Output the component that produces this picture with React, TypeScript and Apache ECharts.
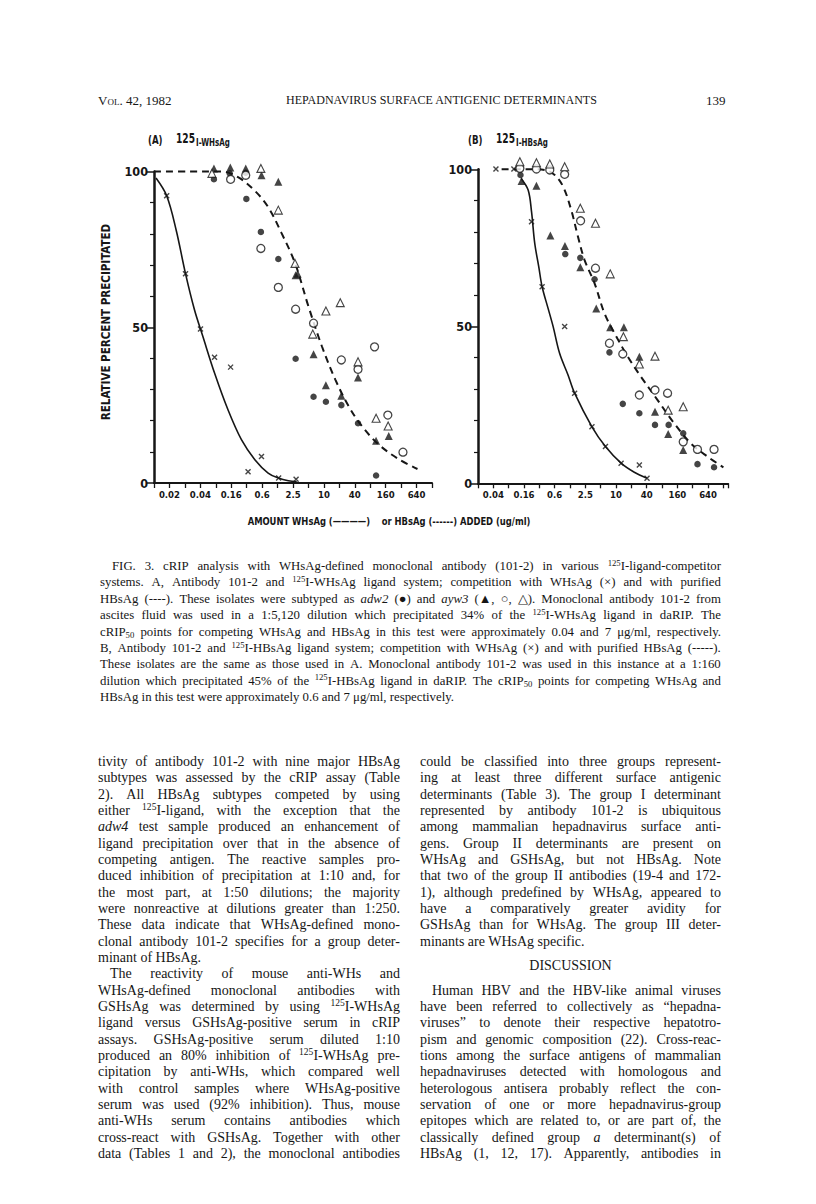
import React, { useEffect, useRef } from 'react';
import * as echarts from 'echarts';

// ---------- data (x = position on the two-fold dilution scale, y = % precipitated) ----------
const tickLabelsA = ['0.02', '0.04', '0.16', '0.6', '2.5', '10', '40', '160', '640'];
const tickLabelsB = ['0.04', '0.16', '0.6', '2.5', '10', '40', '160', '640'];
const yTickLabels = ['0', '50', '100'];

const whsAgA = [[0.82, 92.2], [2.04, 67.2], [3.01, 49.4], [3.92, 40.4], [4.96, 37.2], [6.09, 3.6], [6.96, 8.5], [8.07, 1.6], [9.2, 1.2]];
const adw2A = [[3.88, 97.5], [4.9, 99.4], [5.94, 99.6], [5.98, 91.2], [6.92, 80.6], [8.05, 71.9], [9.17, 39.9], [10.33, 27.7], [11.13, 26.1], [12.13, 25.0], [13.21, 19.2], [14.38, 2.4]];
const ayw3TriFilledA = [[3.88, 101], [4.94, 101.3], [5.94, 101], [6.96, 98.8], [8.05, 96.7], [9.17, 66.7], [9.3, 67.2], [10.33, 41.3], [11.13, 31.4], [12.13, 28.0], [13.21, 33.9], [14.38, 13.6], [15.2, 15.1]];
const ayw3CircleOpenA = [[4.96, 97.5], [5.94, 98.8], [6.92, 75.3], [8.05, 62.8], [9.17, 55.8], [10.33, 51.3], [12.13, 39.5], [13.21, 36.5], [14.28, 43.7], [15.14, 21.8], [16.12, 9.9]];
const ayw3TriOpenA = [[3.75, 99.4], [6.92, 101], [8.05, 87.6], [9.13, 70.5], [10.28, 47.8], [11.13, 55.2], [12.06, 57.9], [13.21, 38.9], [14.38, 20.8], [15.16, 18.3]];
const curveWhA = [[0.13, 97.9], [0.82, 92.2], [1.43, 81.3], [2.04, 67.2], [2.62, 55.6], [3.16, 47.1], [3.92, 35.3], [4.79, 23.5], [5.66, 13.9], [6.53, 7.5], [7.39, 3.2], [8.05, 1.6], [8.7, 0.7], [9.24, 0.4]];
const curveHbA = [[0, 100], [2.19, 100], [4.36, 100], [5.44, 98.2], [6.53, 93.8], [7.39, 88.6], [8.26, 80.2], [9.13, 70.6], [10.0, 56.7], [10.87, 43.9], [11.74, 33.2], [12.61, 24.6], [13.47, 18.2], [14.56, 12.3], [15.86, 7.6], [17.06, 4.5]];

const whsAgB = [[1.17, 100.1], [2.34, 100.1], [3.49, 83.3], [4.18, 62.6], [5.65, 49.9], [6.3, 28.7], [7.43, 18.0], [8.31, 11.7], [9.33, 6.4], [10.52, 5.8], [11.02, 1.6]];
const adw2B = [[2.77, 98.2], [5.69, 73.0], [6.67, 71.8], [7.6, 65.0], [8.57, 41.7], [9.44, 25.3], [10.52, 22.3], [11.54, 18.6], [12.43, 18.6], [13.38, 15.9], [14.31, 6.1], [15.39, 5.1]];
const ayw3TriFilledB = [[2.84, 96.3], [3.81, 94.8], [4.72, 78.9], [5.67, 75.6], [6.67, 68.8], [7.71, 55.7], [8.62, 49.7], [9.51, 49.7], [10.52, 40.3], [11.54, 22.8], [12.4, 15.7], [13.38, 10.6]];
const ayw3CircleOpenB = [[2.73, 100.3], [3.81, 100.1], [4.68, 99.8], [5.65, 98.4], [6.69, 83.6], [7.66, 68.5], [8.57, 44.6], [9.44, 41.2], [10.52, 28.1], [11.54, 29.7], [12.36, 28.7], [13.38, 13.2], [14.31, 10.8], [15.39, 10.8]];
const ayw3TriOpenB = [[2.73, 102.4], [3.81, 102.1], [4.68, 101.7], [5.65, 100.8], [6.67, 87.6], [7.66, 82.8], [8.62, 66.7], [9.48, 46.7], [10.52, 38.0], [11.54, 40.5], [12.4, 23.3], [13.38, 24.4]];
const curveWhB = [[2.81, 97.1], [3.27, 93.4], [3.49, 86.5], [3.7, 76.4], [3.96, 69], [4.18, 62.6], [4.57, 55.7], [4.9, 49.9], [5.32, 41.4], [5.87, 34.5], [6.3, 28.7], [7.43, 18.0], [8.31, 11.7], [9.33, 6.4], [10.19, 3.5], [11.02, 1.6]];
const curveHbB = [[1.54, 100], [2.5, 100], [3.5, 100], [4.35, 99.8], [5.0, 98.2], [5.55, 94.5], [6.08, 87], [6.52, 78.5], [6.95, 71.1], [7.6, 63.7], [8.25, 54.1], [8.9, 47.8], [9.77, 40.3], [10.63, 33.9], [11.71, 26.5], [12.79, 19.1], [13.88, 12.7], [14.96, 8.5], [16.0, 5.1]];

// ---------- texts ----------
const captionLines = [
  'FIG. 3. cRIP analysis with WHsAg-defined monoclonal antibody (101-2) in various ^{125}I-ligand-competitor',
  'systems. A, Antibody 101-2 and ^{125}I-WHsAg ligand system; competition with WHsAg (×) and with purified',
  'HBsAg (----). These isolates were subtyped as *adw2* (●) and *ayw3* (▲, ○, △). Monoclonal antibody 101-2 from',
  'ascites fluid was used in a 1:5,120 dilution which precipitated 34% of the ^{125}I-WHsAg ligand in daRIP. The',
  'cRIP_{50} points for competing WHsAg and HBsAg in this test were approximately 0.04 and 7 μg/ml, respectively.',
  'B, Antibody 101-2 and ^{125}I-HBsAg ligand system; competition with WHsAg (×) and with purified HBsAg (-----).',
  'These isolates are the same as those used in A. Monoclonal antibody 101-2 was used in this instance at a 1:160',
  'dilution which precipitated 45% of the ^{125}I-HBsAg ligand in daRIP. The cRIP_{50} points for competing WHsAg and',
  'HBsAg in this test were approximately 0.6 and 7 μg/ml, respectively.',
];

const col1Lines = [
  'tivity of antibody 101-2 with nine major HBsAg',
  'subtypes was assessed by the cRIP assay (Table',
  '2). All HBsAg subtypes competed by using',
  'either ^{125}I-ligand, with the exception that the',
  '*adw4* test sample produced an enhancement of',
  'ligand precipitation over that in the absence of',
  'competing antigen. The reactive samples pro-',
  'duced inhibition of precipitation at 1:10 and, for',
  'the most part, at 1:50 dilutions; the majority',
  'were nonreactive at dilutions greater than 1:250.',
  'These data indicate that WHsAg-defined mono-',
  'clonal antibody 101-2 specifies for a group deter-',
  'minant of HBsAg.',
  'The reactivity of mouse anti-WHs and',
  'WHsAg-defined monoclonal antibodies with',
  'GSHsAg was determined by using ^{125}I-WHsAg',
  'ligand versus GSHsAg-positive serum in cRIP',
  'assays. GSHsAg-positive serum diluted 1:10',
  'produced an 80% inhibition of ^{125}I-WHsAg pre-',
  'cipitation by anti-WHs, which compared well',
  'with control samples where WHsAg-positive',
  'serum was used (92% inhibition). Thus, mouse',
  'anti-WHs serum contains antibodies which',
  'cross-react with GSHsAg. Together with other',
  'data (Tables 1 and 2), the monoclonal antibodies',
];
const col1Ragged = [12];
const col1Indent = [13];

const col2LinesTop = [
  'could be classified into three groups represent-',
  'ing at least three different surface antigenic',
  'determinants (Table 3). The group I determinant',
  'represented by antibody 101-2 is ubiquitous',
  'among mammalian hepadnavirus surface anti-',
  'gens. Group II determinants are present on',
  'WHsAg and GSHsAg, but not HBsAg. Note',
  'that two of the group II antibodies (19-4 and 172-',
  '1), although predefined by WHsAg, appeared to',
  'have a comparatively greater avidity for',
  'GSHsAg than for WHsAg. The group III deter-',
  'minants are WHsAg specific.',
];
const col2Heading = 'DISCUSSION';
const col2LinesBottom = [
  'Human HBV and the HBV-like animal viruses',
  'have been referred to collectively as “hepadna-',
  'viruses” to denote their respective hepatotro-',
  'pism and genomic composition (22). Cross-reac-',
  'tions among the surface antigens of mammalian',
  'hepadnaviruses detected with homologous and',
  'heterologous antisera probably reflect the con-',
  'servation of one or more hepadnavirus-group',
  'epitopes which are related to, or are part of, the',
  'classically defined group *a* determinant(s) of',
  'HBsAg (1, 12, 17). Apparently, antibodies in',
];

const serif = '"Liberation Serif", "Times New Roman", serif';
const cond = '"Liberation Sans Narrow", "DejaVu Sans Condensed", "Roboto", sans-serif';
const ink = '#161616';

function renderMarkup(s: string, key: string) {
  const parts = s.split(/(\^\{[^}]*\}|_\{[^}]*\}|\*[^*]+\*)/).filter((p) => p !== '');
  return parts.map((p, i) => {
    if (p.startsWith('^{')) return <span key={key + i} style={{ fontSize: '0.68em', position: 'relative', top: '-0.5em' }}>{p.slice(2, -1)}</span>;
    if (p.startsWith('_{')) return <span key={key + i} style={{ fontSize: '0.68em', position: 'relative', top: '0.25em' }}>{p.slice(2, -1)}</span>;
    if (p.startsWith('*')) return <i key={key + i}>{p.slice(1, -1)}</i>;
    return <React.Fragment key={key + i}>{p}</React.Fragment>;
  });
}

function TextLine(props: { x: number; y: number; w: number; text: string; justify: boolean; size: number; k: string }) {
  const { x, y, w, text, justify, size, k } = props;
  const base: React.CSSProperties = {
    position: 'absolute', left: x, top: y - 9, height: 18, lineHeight: '18px', fontFamily: serif,
    fontSize: size, color: ink, whiteSpace: 'nowrap',
  };
  if (!justify) return <div style={base}>{renderMarkup(text, k)}</div>;
  const words = text.split(' ');
  return (
    <div style={{ ...base, width: w, display: 'flex', justifyContent: 'space-between' }}>
      {words.map((wd, i) => <span key={k + 'w' + i}>{renderMarkup(wd, k + 'w' + i)}</span>)}
    </div>
  );
}

function fmtX(labels: string[]) {
  return (v: number) => {
    const k = Math.round(v);
    return k % 2 === 1 ? labels[(k - 1) / 2] ?? '' : '';
  };
}

function Chart() {
  const ref = useRef<HTMLDivElement>(null);
  useEffect(() => {
    if (!ref.current) return;
    const chart = echarts.init(ref.current, undefined, { renderer: 'svg' });
    const xAxisBase = (max: number, labels: string[], gridIndex: number) => ({
      type: 'value', gridIndex, min: 0, max, interval: 1,
      axisLine: { onZero: false, lineStyle: { color: ink, width: 2 } },
      axisTick: { show: true, length: 5, lineStyle: { color: ink, width: 1.3 } },
      splitLine: { show: false },
      axisLabel: { formatter: fmtX(labels), color: ink, fontFamily: cond, fontWeight: 'bold', fontSize: 9.5, margin: 6 },
    });
    const yAxisBase = (gridIndex: number) => ({
      type: 'value', gridIndex, min: 0, max: 100, interval: 50,
      axisLine: { show: true, onZero: false, lineStyle: { color: ink, width: 2.5 } },
      axisTick: { show: true, length: 8, lineStyle: { color: ink, width: 1.5 } },
      minorTick: { show: true, splitNumber: 5, length: 4, lineStyle: { color: ink, width: 1.2 } },
      splitLine: { show: false },
      minorSplitLine: { show: false },
      axisLabel: {
        formatter: (v: number) => yTickLabels[Math.round(v / 50)] ?? '',
        color: ink, fontFamily: cond, fontWeight: 'bold', fontSize: 12.5, margin: 6,
      },
    });
    const scatter = (data: number[][], symbol: string, size: number, filled: boolean, idx: number, bw = 1.2) => ({
      type: 'scatter', xAxisIndex: idx, yAxisIndex: idx, data, symbol, symbolSize: size, clip: false, z: 5,
      itemStyle: filled ? { color: ink } : { color: '#ffffff', borderColor: ink, borderWidth: bw },
    });
    const xMark = (data: number[][], idx: number) => ({
      type: 'scatter', xAxisIndex: idx, yAxisIndex: idx, data, symbol: 'path://M0 0L10 10M10 0L0 10',
      symbolSize: 5, clip: false, z: 5,
      itemStyle: { color: 'none', borderColor: ink, borderWidth: 1.4 },
    });
    const curve = (data: number[][], dashed: boolean, idx: number) => ({
      type: 'line', xAxisIndex: idx, yAxisIndex: idx, data, smooth: 0.35, showSymbol: false, symbol: 'none', clip: false, z: 3,
      lineStyle: { color: ink, width: dashed ? 2 : 1.6, type: dashed ? [7, 5] : 'solid' },
    });
    const condText = (text: string, x: number, y: number, size: number, sx: number, align = 'left') => ({
      type: 'text', x, y, scaleX: sx,
      style: { text, fontFamily: cond, fontWeight: 'bold', fontSize: size, fill: ink, align, verticalAlign: 'middle' },
    });
    chart.setOption({
      animation: false,
      backgroundColor: '#ffffff',
      grid: [
        { left: 154, top: 171.5, width: 278, height: 311.5 },
        { left: 478, top: 169.3, width: 250, height: 314 },
      ],
      xAxis: [xAxisBase(18, tickLabelsA, 0), xAxisBase(16.3, tickLabelsB, 1)],
      yAxis: [yAxisBase(0), yAxisBase(1)],
      series: [
        curve(curveWhA, false, 0), curve(curveHbA, true, 0),
        xMark(whsAgA, 0),
        scatter(adw2A, 'circle', 6.5, true, 0),
        scatter(ayw3TriFilledA, 'triangle', 8, true, 0),
        scatter(ayw3CircleOpenA, 'circle', 8, false, 0, 1.3),
        scatter(ayw3TriOpenA, 'triangle', 8, false, 0, 1.1),
        curve(curveWhB, false, 1), curve(curveHbB, true, 1),
        xMark(whsAgB, 1),
        scatter(adw2B, 'circle', 6.5, true, 1),
        scatter(ayw3TriFilledB, 'triangle', 8, true, 1),
        scatter(ayw3CircleOpenB, 'circle', 8, false, 1, 1.3),
        scatter(ayw3TriOpenB, 'triangle', 8, false, 1, 1.1),
      ],
      graphic: [
        condText('(A)', 148, 140, 12, 0.8),
        condText('125', 176, 138, 13.5, 0.75),
        condText('I-WHsAg', 196, 142, 11, 0.72),
        condText('(B)', 468, 140, 12, 0.8),
        condText('125', 496, 138, 13.5, 0.75),
        condText('I-HBsAg', 516, 142, 11, 0.72),
        { type: 'text', x: 106, y: 322, rotation: Math.PI / 2, style: { text: 'RELATIVE PERCENT PRECIPITATED', fontFamily: cond, fontWeight: 'bold', fontSize: 11.5, fill: ink, align: 'center', verticalAlign: 'middle' } },
        condText('AMOUNT WHsAg (————)    or HBsAg (------) ADDED (ug/ml)', 389, 521, 11, 0.85, 'center'),
      ],
    });
    return () => chart.dispose();
  }, []);
  return <div ref={ref} style={{ position: 'absolute', left: 0, top: 0, width: 816, height: 560 }} />;
}

export default function App() {
  const lh = 16.33;
  const bodyTop = 762;
  return (
    <div style={{ position: 'absolute', left: 0, top: 0, width: 816, height: 1204, background: '#ffffff', overflow: 'hidden' }}>
      <Chart />
      <div style={{ position: 'absolute', left: 98, top: 93, fontFamily: serif, fontSize: 13, color: ink, fontVariant: 'small-caps' }}>Vol. 42, 1982</div>
      <div style={{ position: 'absolute', left: 286, top: 93, fontFamily: serif, fontSize: 12, color: ink }}>HEPADNAVIRUS SURFACE ANTIGENIC DETERMINANTS</div>
      <div style={{ position: 'absolute', left: 706, top: 93, fontFamily: serif, fontSize: 13, color: ink }}>139</div>
      {captionLines.map((t, i) => (
        <TextLine key={'c' + i} k={'c' + i} x={i === 0 ? 112 : 100} y={566 + i * 16.4} w={i === 0 ? 609 : 621} text={t} justify={i !== captionLines.length - 1} size={12.8} />
      ))}
      {col1Lines.map((t, i) => (
        <TextLine key={'a' + i} k={'a' + i} x={col1Indent.includes(i) ? 110 : 98} y={bodyTop + i * lh} w={col1Indent.includes(i) ? 290 : 302} text={t} justify={!col1Ragged.includes(i)} size={14} />
      ))}
      {col2LinesTop.map((t, i) => (
        <TextLine key={'b' + i} k={'b' + i} x={420} y={bodyTop + i * lh} w={301} text={t} justify={i !== col2LinesTop.length - 1} size={14} />
      ))}
      <div style={{ position: 'absolute', left: 420, width: 301, top: bodyTop + 12.5 * lh - 9, height: 18, lineHeight: '18px', textAlign: 'center', fontFamily: serif, fontSize: 14, color: ink }}>{col2Heading}</div>
      {col2LinesBottom.map((t, i) => (
        <TextLine key={'d' + i} k={'d' + i} x={i === 0 ? 432 : 420} y={bodyTop + (14 + i) * lh} w={i === 0 ? 289 : 301} text={t} justify={true} size={14} />
      ))}
    </div>
  );
}
